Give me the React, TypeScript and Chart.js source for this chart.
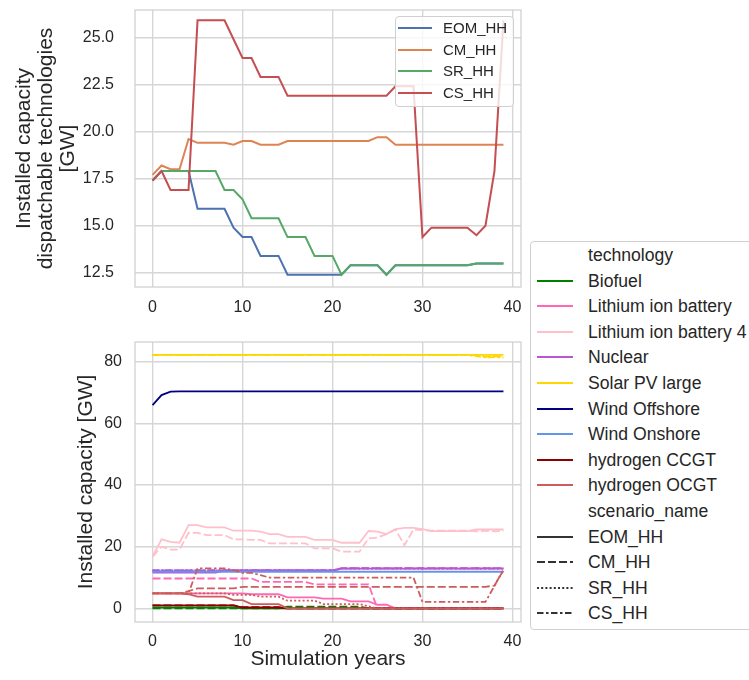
import React, { useEffect, useRef } from "react";
import { Chart, registerables } from "chart.js";

Chart.register(...registerables);

const FONT = "'Liberation Sans', Arial, Helvetica, sans-serif";
const TEXT = "#262626";

// ---------- categories / ticks ----------
const years = [0,1,2,3,4,5,6,7,8,9,10,11,12,13,14,15,16,17,18,19,20,21,22,23,24,25,26,27,28,29,30,31,32,33,34,35,36,37,38,39];
const xTicks = [0, 10, 20, 30, 40];
const topYTicks = [12.5, 15, 17.5, 20, 22.5, 25];
const botYTicks = [0, 20, 40, 60, 80];

// ---------- top chart: dispatchable capacity per scenario ----------
const eomTop = [17.4,17.9,17.9,17.9,17.9,15.9,15.9,15.9,15.9,14.9,14.4,14.4,13.4,13.4,13.4,12.4,12.4,12.4,12.4,12.4,12.4,12.4,12.9,12.9,12.9,12.9,12.4,12.9,12.9,12.9,12.9,12.9,12.9,12.9,12.9,12.9,13.0,13.0,13.0,13.0];
const cmTop = [17.7,18.2,18.0,18.0,19.6,19.4,19.4,19.4,19.4,19.3,19.5,19.5,19.3,19.3,19.3,19.5,19.5,19.5,19.5,19.5,19.5,19.5,19.5,19.5,19.5,19.7,19.7,19.3,19.3,19.3,19.3,19.3,19.3,19.3,19.3,19.3,19.3,19.3,19.3,19.3];
const srTop = [17.4,17.9,17.9,17.9,17.9,17.9,17.9,17.9,16.9,16.9,16.4,15.4,15.4,15.4,15.4,14.4,14.4,14.4,13.4,13.4,13.4,12.4,12.9,12.9,12.9,12.9,12.4,12.9,12.9,12.9,12.9,12.9,12.9,12.9,12.9,12.9,13.0,13.0,13.0,13.0];
const csTop = [17.4,17.9,16.9,16.9,16.9,25.9,25.9,25.9,25.9,24.9,23.9,23.9,22.9,22.9,22.9,21.9,21.9,21.9,21.9,21.9,21.9,21.9,21.9,21.9,21.9,21.9,21.9,22.4,22.4,22.4,14.4,14.9,14.9,14.9,14.9,14.9,14.5,15.0,17.9,25.9];

// ---------- bottom chart: capacity per technology & scenario ----------
const bioEOM = [0.3,0.3,0.3,0.3,0.3,0.3,0.3,0.3,0.3,0.3,0,0,0,0,0,0,0,0,0,0,0,0,0,0,0,0,0,0,0,0,0,0,0,0,0,0,0,0,0,0];
const bioCM = [0,0,0,0,0,0,0,0,0,0,0,0,0,0,0,0.6,0.6,0.6,0.6,0.6,0.6,0.6,0.6,0.6,0,0,0,0,0,0,0,0,0,0,0,0,0,0,0,0];
const liEOM = [4.9,4.9,4.9,4.9,4.9,4.9,4.9,4.9,4.9,4.9,4.9,4.6,4.6,4.6,4.6,3.6,3.6,3.6,3.6,3.2,3.2,3.2,2.3,2.3,2.3,1.2,1.2,0,0,0,0,0,0,0,0,0,0,0,0,0];
const liCM = [9.7,9.7,9.7,9.7,9.7,9.7,9.7,9.7,9.7,9.7,9.7,9.7,8.6,8.6,8.6,8.6,8.6,8.6,7.8,7.8,7.8,7.8,7.8,7.8,7.8,0,0,0,0,0,0,0,0,0,0,0,0,0,0,0];
const li4EOM = [16.8,22.4,21.6,21.3,27.0,27.0,26.3,26.3,26.3,25.2,25.2,25.2,24.9,24.1,24.1,23.2,23.2,23.2,22.2,22.2,22.2,21.3,21.3,21.3,25.1,24.9,24.1,25.7,26.1,26.1,25.7,25.1,25.1,25.1,25.1,25.1,25.6,25.6,25.6,25.6];
const li4CM = [16.8,20.0,19.1,19.1,24.5,24.5,23.8,23.8,23.8,22.4,22.4,22.2,22.2,21.1,21.1,21.1,21.1,21.1,19.5,19.5,19.5,18.4,18.4,18.4,22.7,23.0,24.1,25.6,20.5,25.6,25.4,25.2,25.2,25.2,25.2,25.2,25.0,25.2,25.0,25.2];
const nucEOM = [11.6,11.6,11.6,11.6,11.6,11.6,11.6,11.6,12.3,12.3,12.3,12.3,12.3,12.3,12.3,12.3,12.3,12.3,12.3,12.3,12.3,12.9,12.9,12.9,12.9,12.9,12.9,12.9,12.9,12.9,12.9,12.9,12.9,12.9,12.9,12.9,12.9,12.9,12.9,12.9];
const nucCM = [12.3,12.3,12.3,12.3,12.3,12.3,12.3,12.3,12.3,12.3,12.3,12.3,12.3,12.3,12.3,12.3,12.3,12.3,12.3,12.3,12.3,13.1,13.1,13.1,13.1,13.1,13.1,13.1,13.1,13.1,13.1,13.1,13.1,13.1,13.1,13.1,13.1,13.1,13.1,13.1];
const nucSR = [12.3,12.3,12.3,12.3,12.3,12.3,12.3,12.3,12.3,12.3,12.3,12.3,12.3,12.3,12.3,12.3,12.3,12.3,12.3,12.3,12.3,12.9,12.9,12.9,12.9,12.9,12.9,12.9,12.9,12.9,12.9,12.9,12.9,12.9,12.9,12.9,12.9,12.9,12.9,12.9];
const nucCS = [12.3,12.3,12.3,12.3,12.3,12.3,12.3,12.3,12.3,12.3,12.3,12.3,12.3,12.3,12.3,12.3,12.3,12.3,12.3,12.3,12.3,13.0,13.0,13.0,13.0,13.0,13.0,13.0,13.0,13.0,13.0,13.0,13.0,13.0,13.0,13.0,13.0,13.0,13.0,13.0];
const solarEOM = [82.2,82.2,82.2,82.2,82.2,82.2,82.2,82.2,82.2,82.2,82.2,82.2,82.2,82.2,82.2,82.2,82.2,82.2,82.2,82.2,82.2,82.2,82.2,82.2,82.2,82.2,82.2,82.2,82.2,82.2,82.2,82.2,82.2,82.2,82.2,82.2,82.2,82.2,82.2,82.2];
const solarCM = [82.2,82.2,82.2,82.2,82.2,82.2,82.2,82.2,82.2,82.2,82.2,82.2,82.2,82.2,82.2,82.2,82.2,82.2,82.2,82.2,82.2,82.2,82.2,82.2,82.2,82.2,82.2,82.2,82.2,82.2,82.2,82.2,82.2,82.2,82.2,82.2,82.2,81.6,81.8,81.6];
const solarCS = [82.2,82.2,82.2,82.2,82.2,82.2,82.2,82.2,82.2,82.2,82.2,82.2,82.2,82.2,82.2,82.2,82.2,82.2,82.2,82.2,82.2,82.2,82.2,82.2,82.2,82.2,82.2,82.2,82.2,82.2,82.2,82.2,82.2,82.2,82.2,82.2,81.8,81.4,81.5,81.4];
const windOffAll = [65.9,69.2,70.3,70.4,70.4,70.4,70.4,70.4,70.4,70.4,70.4,70.4,70.4,70.4,70.4,70.4,70.4,70.4,70.4,70.4,70.4,70.4,70.4,70.4,70.4,70.4,70.4,70.4,70.4,70.4,70.4,70.4,70.4,70.4,70.4,70.4,70.4,70.4,70.4,70.4];
const windOnAll = [11.9,11.9,11.9,11.9,11.9,11.9,11.9,11.9,11.9,11.9,11.9,11.9,11.9,11.9,11.9,11.9,11.9,11.9,11.9,11.9,11.9,11.9,11.9,11.9,11.9,11.9,11.9,11.9,11.9,11.9,11.9,11.9,11.9,11.9,11.9,11.9,11.9,11.9,11.9,11.9];
const ccgtEOM = [1.0,1.0,1.0,1.0,1.0,1.0,1.0,1.0,1.0,1.0,0.3,0.3,0.3,0.3,0.3,0,0,0,0,0,0,0,0,0,0,0,0,0,0,0,0,0,0,0,0,0,0,0,0,0];
const ccgtCM = [1.0,1.0,1.0,1.0,1.0,1.0,1.0,1.0,1.0,1.0,0.4,0.4,0.4,0.4,0.4,0,0,0,0,0,0,0,0,0,0,0,0,0,0,0,0,0,0,0,0,0,0,0,0,0];
const ocgtEOM = [4.9,4.9,4.9,4.9,4.6,3.8,3.8,3.8,3.8,2.7,2.7,1.4,1.4,1.4,1.4,0,0,0,0,0,0,0,0,0,0,0,0,0,0,0,0,0,0,0,0,0,0,0,0,0];
const ocgtCM = [4.9,4.9,4.9,4.9,5.6,6.5,6.5,6.5,6.5,6.5,7.0,7.0,7.0,7.0,7.0,7.0,7.0,7.0,7.0,7.0,7.0,7.0,7.0,7.0,7.0,7.0,7.0,7.0,7.0,7.0,7.0,7.0,7.0,7.0,7.0,7.0,7.0,7.0,7.4,12.4];
const ocgtSR = [4.9,4.9,4.9,4.9,4.9,4.9,4.9,4.9,4.9,4.4,4.4,4.4,3.8,3.8,3.8,2.5,2.5,2.5,2.5,1.4,1.4,1.4,1.4,1.4,0.7,0,0,0,0,0,0,0,0,0,0,0,0,0,0,0];
const ocgtCS = [4.9,4.9,4.9,4.9,4.9,13.0,13.0,13.0,13.0,12.4,11.5,11.5,10.8,10.0,10.0,10.0,10.0,10.0,10.0,10.0,10.0,10.0,10.0,10.0,10.0,10.0,10.0,10.0,10.0,10.0,2.1,2.1,2.1,2.1,2.1,2.1,2.1,2.1,7.3,12.6];

// ---------- styles ----------
const scenarioColors = { EOM: "#4c72b0", CM: "#dd8452", SR: "#55a868", CS: "#c44e52" };
const techColors = {
  Biofuel: "#008000",
  "Lithium ion battery": "#ff69b4",
  "Lithium ion battery 4": "#ffc0cb",
  Nuclear: "#ba55d3",
  "Solar PV large": "#ffd700",
  "Wind Offshore": "#000080",
  "Wind Onshore": "#6495ed",
  "hydrogen CCGT": "#8b0000",
  "hydrogen OCGT": "#cd5c5c",
};
const dashes: Record<string, number[]> = { EOM: [], CM: [8, 3], SR: [2, 2.2], CS: [6.5, 2.5, 2.5, 2.5] };

const GRID = "#d6d6d6";
const EDGE = "#cfcfcf";

const framePlugin = {
  id: "frame",
  afterDraw(chart: any) {
    const { ctx, chartArea: a } = chart;
    ctx.save();
    ctx.strokeStyle = EDGE;
    ctx.lineWidth = 1.25;
    ctx.strokeRect(a.left, a.top, a.right - a.left, a.bottom - a.top);
    ctx.restore();
  },
};

function ds(label: string, data: number[], color: string, scen: string, width: number) {
  return {
    label,
    data,
    borderColor: color,
    backgroundColor: color,
    borderWidth: width,
    borderDash: dashes[scen],
    pointRadius: 0,
    tension: 0,
    fill: false,
  };
}

function withOrder(list: any[]) {
  return list.map((d, i) => ({ ...d, order: list.length - i }));
}

function xScale(pad: number, height: number) {
  return {
    type: "linear",
    min: -1.95,
    max: 40.95,
    grid: { color: GRID, lineWidth: 1.4, drawTicks: false },
    border: { display: false },
    ticks: { padding: pad, color: TEXT, font: { size: 16, family: FONT }, callback: (v: any) => String(v) },
    afterBuildTicks: (s: any) => {
      s.ticks = xTicks.map((v) => ({ value: v }));
    },
    afterFit: (s: any) => {
      s.height = height;
      s.paddingLeft = 0;
      s.paddingRight = 0;
    },
  };
}

function yFit(s: any) {
  s.width = 135;
  s.paddingTop = 0;
  s.paddingBottom = 0;
}

const topLegendItems = [
  { label: "EOM_HH", color: scenarioColors.EOM },
  { label: "CM_HH", color: scenarioColors.CM },
  { label: "SR_HH", color: scenarioColors.SR },
  { label: "CS_HH", color: scenarioColors.CS },
];

const rightLegendItems: { label: string; color?: string; dash?: string }[] = [
  { label: "technology" },
  { label: "Biofuel", color: techColors.Biofuel },
  { label: "Lithium ion battery", color: techColors["Lithium ion battery"] },
  { label: "Lithium ion battery 4", color: techColors["Lithium ion battery 4"] },
  { label: "Nuclear", color: techColors.Nuclear },
  { label: "Solar PV large", color: techColors["Solar PV large"] },
  { label: "Wind Offshore", color: techColors["Wind Offshore"] },
  { label: "Wind Onshore", color: techColors["Wind Onshore"] },
  { label: "hydrogen CCGT", color: techColors["hydrogen CCGT"] },
  { label: "hydrogen OCGT", color: techColors["hydrogen OCGT"] },
  { label: "scenario_name" },
  { label: "EOM_HH", color: "#333333", dash: "" },
  { label: "CM_HH", color: "#333333", dash: "8 3" },
  { label: "SR_HH", color: "#333333", dash: "2 2.2" },
  { label: "CS_HH", color: "#333333", dash: "6.5 2.5 2.5 2.5" },
];

export default function App() {
  const topRef = useRef<HTMLCanvasElement | null>(null);
  const botRef = useRef<HTMLCanvasElement | null>(null);

  useEffect(() => {
    Chart.defaults.font.family = FONT;
    Chart.defaults.color = TEXT;

    const topChart = new Chart(topRef.current as HTMLCanvasElement, {
      type: "line",
      data: {
        labels: years,
        datasets: withOrder([
          ds("EOM_HH", eomTop, scenarioColors.EOM, "EOM", 2),
          ds("CM_HH", cmTop, scenarioColors.CM, "EOM", 2),
          ds("SR_HH", srTop, scenarioColors.SR, "EOM", 2),
          ds("CS_HH", csTop, scenarioColors.CS, "EOM", 2),
        ]),
      },
      options: {
        animation: false,
        responsive: false,
        maintainAspectRatio: false,
        layout: { padding: { top: 10, right: 9, left: 0, bottom: 0 } },
        plugins: { legend: { display: false }, tooltip: { enabled: false } },
        scales: {
          x: xScale(11, 33) as any,
          y: {
            type: "linear",
            min: 11.75,
            max: 26.45,
            grid: { color: GRID, lineWidth: 1.4, drawTicks: false },
            border: { display: false },
            ticks: {
              padding: 21,
              color: TEXT,
              font: { size: 16, family: FONT },
              callback: (v: any) => Number(v).toFixed(1),
            },
            afterBuildTicks: (s: any) => {
              s.ticks = topYTicks.map((v) => ({ value: v }));
            },
            afterFit: yFit,
            title: {
              display: true,
              text: ["Installed capacity", "dispatchable technologies", "[GW]"],
              color: TEXT,
              font: { size: 21, family: FONT, lineHeight: 1.05 },
              padding: { top: 13, bottom: 0 },
            },
          } as any,
        },
      },
      plugins: [framePlugin],
    });

    const bottomSets = withOrder([
      ds("Biofuel EOM_HH", bioEOM, techColors.Biofuel, "EOM", 1.8),
      ds("Biofuel CM_HH", bioCM, techColors.Biofuel, "CM", 1.8),
      ds("Lithium ion battery EOM_HH", liEOM, techColors["Lithium ion battery"], "EOM", 1.8),
      ds("Lithium ion battery CM_HH", liCM, techColors["Lithium ion battery"], "CM", 1.8),
      ds("Lithium ion battery 4 EOM_HH", li4EOM, techColors["Lithium ion battery 4"], "EOM", 1.8),
      ds("Lithium ion battery 4 CM_HH", li4CM, techColors["Lithium ion battery 4"], "CM", 1.8),
      ds("Nuclear EOM_HH", nucEOM, techColors.Nuclear, "EOM", 1.8),
      ds("Nuclear CM_HH", nucCM, techColors.Nuclear, "CM", 1.8),
      ds("Nuclear SR_HH", nucSR, techColors.Nuclear, "SR", 1.8),
      ds("Nuclear CS_HH", nucCS, techColors.Nuclear, "CS", 1.8),
      ds("Solar PV large EOM_HH", solarEOM, techColors["Solar PV large"], "EOM", 1.8),
      ds("Solar PV large CM_HH", solarCM, techColors["Solar PV large"], "CM", 1.8),
      ds("Solar PV large CS_HH", solarCS, techColors["Solar PV large"], "CS", 1.8),
      ds("Wind Offshore", windOffAll, techColors["Wind Offshore"], "EOM", 1.8),
      ds("Wind Onshore", windOnAll, techColors["Wind Onshore"], "EOM", 1.8),
      ds("hydrogen CCGT EOM_HH", ccgtEOM, techColors["hydrogen CCGT"], "EOM", 1.8),
      ds("hydrogen CCGT CM_HH", ccgtCM, techColors["hydrogen CCGT"], "CM", 1.8),
      ds("hydrogen OCGT EOM_HH", ocgtEOM, techColors["hydrogen OCGT"], "EOM", 1.8),
      ds("hydrogen OCGT CM_HH", ocgtCM, techColors["hydrogen OCGT"], "CM", 1.8),
      ds("hydrogen OCGT SR_HH", ocgtSR, techColors["hydrogen OCGT"], "SR", 1.8),
      ds("hydrogen OCGT CS_HH", ocgtCS, techColors["hydrogen OCGT"], "CS", 1.8),
    ]);

    const xb: any = xScale(10, 58);
    xb.title = {
      display: true,
      text: "Simulation years",
      color: TEXT,
      font: { size: 21, family: FONT, lineHeight: 1.2 },
      padding: { top: 0, bottom: 8 },
    };

    const botChart = new Chart(botRef.current as HTMLCanvasElement, {
      type: "line",
      data: { labels: years, datasets: bottomSets },
      options: {
        animation: false,
        responsive: false,
        maintainAspectRatio: false,
        layout: { padding: { top: 22, right: 9, left: 0, bottom: 0 } },
        plugins: { legend: { display: false }, tooltip: { enabled: false } },
        scales: {
          x: xb,
          y: {
            type: "linear",
            min: -4.4,
            max: 86.4,
            grid: { color: GRID, lineWidth: 1.4, drawTicks: false },
            border: { display: false },
            ticks: { padding: 13, color: TEXT, font: { size: 16, family: FONT }, callback: (v: any) => String(v) },
            afterBuildTicks: (s: any) => {
              s.ticks = botYTicks.map((v) => ({ value: v }));
            },
            afterFit: yFit,
            title: {
              display: true,
              text: "Installed capacity [GW]",
              color: TEXT,
              font: { size: 21, family: FONT, lineHeight: 1.2 },
              padding: { top: 74, bottom: 0 },
            },
          } as any,
        },
      },
      plugins: [framePlugin],
    });

    return () => {
      topChart.destroy();
      botChart.destroy();
    };
  }, []);

  const lineSvg = (color: string, dash: string | undefined, w: number, len: number) => (
    <svg width={len} height={8} style={{ display: "block" }}>
      <line x1={0} y1={4} x2={len} y2={4} stroke={color} strokeWidth={w} strokeDasharray={dash || undefined} />
    </svg>
  );

  return (
    <div
      style={{
        position: "absolute",
        left: 0,
        top: 0,
        width: 749,
        height: 680,
        overflow: "hidden",
        background: "#ffffff",
        fontFamily: FONT,
        color: TEXT,
      }}
    >
      <canvas ref={topRef} width={530} height={320} style={{ position: "absolute", left: 0, top: 0, width: 530, height: 320 }} />
      <canvas ref={botRef} width={530} height={360} style={{ position: "absolute", left: 0, top: 320, width: 530, height: 360 }} />

      {/* legend inside the top panel */}
      <div
        style={{
          position: "absolute",
          left: 395,
          top: 16,
          width: 119,
          height: 91,
          boxSizing: "border-box",
          border: "1px solid #d0d0d0",
          borderRadius: 4,
          background: "rgba(255,255,255,0.8)",
        }}
      >
        {topLegendItems.map((it, i) => (
          <div
            key={it.label}
            style={{ position: "absolute", left: 2, top: 11 + i * 21.7 - 10, height: 20, display: "flex", alignItems: "center" }}
          >
            {lineSvg(it.color, "", 2, 34)}
            <span style={{ marginLeft: 11, fontSize: 15, lineHeight: "20px", whiteSpace: "nowrap" }}>{it.label}</span>
          </div>
        ))}
      </div>

      {/* figure legend on the right */}
      <div
        style={{
          position: "absolute",
          left: 530,
          top: 241,
          width: 240,
          height: 389,
          boxSizing: "border-box",
          border: "1px solid #d0d0d0",
          borderRadius: 4,
          background: "#ffffff",
        }}
      >
        {rightLegendItems.map((it, i) => (
          <div
            key={it.label + i}
            style={{ position: "absolute", left: 6, top: 13 + i * 25.6 - 12, height: 24, display: "flex", alignItems: "center" }}
          >
            <div style={{ width: 36, height: 8 }}>{it.color ? lineSvg(it.color, it.dash, 2, 36) : null}</div>
            <span style={{ marginLeft: 15, fontSize: 17.6, lineHeight: "24px", whiteSpace: "nowrap" }}>{it.label}</span>
          </div>
        ))}
      </div>
    </div>
  );
}
